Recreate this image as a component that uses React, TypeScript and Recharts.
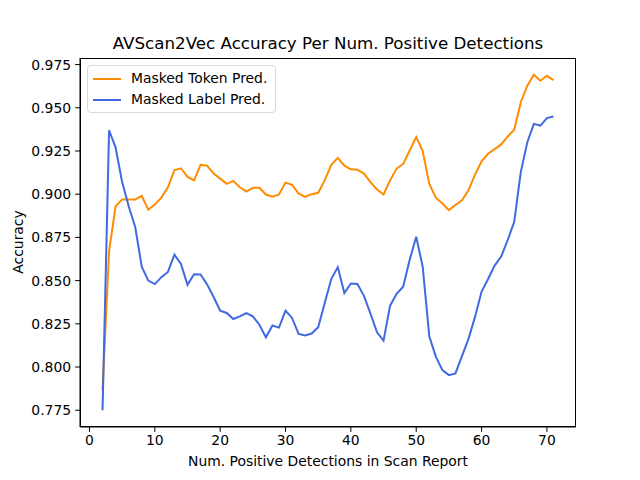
import { Line, LineChart, XAxis, YAxis } from "recharts";

const detections = [
  2, 3, 4, 5, 6, 7, 8, 9, 10, 11, 12, 13, 14, 15, 16, 17, 18, 19, 20, 21, 22, 23, 24, 25, 26, 27, 28, 29, 30,
  31, 32, 33, 34, 35, 36, 37, 38, 39, 40, 41, 42, 43, 44, 45, 46, 47, 48, 49, 50, 51, 52, 53, 54, 55, 56, 57,
  58, 59, 60, 61, 62, 63, 64, 65, 66, 67, 68, 69, 70, 71,
];

const maskedToken = [
  0.787, 0.867, 0.893, 0.897, 0.897, 0.897, 0.899, 0.891, 0.894, 0.898, 0.904, 0.914, 0.915, 0.91, 0.908,
  0.917, 0.9165, 0.912, 0.909, 0.906, 0.9077, 0.904, 0.9015, 0.9037, 0.9037, 0.8998, 0.8985, 0.8998, 0.9067,
  0.9054, 0.9004, 0.8985, 0.9, 0.9008, 0.908, 0.917, 0.921, 0.9165, 0.9144, 0.9142, 0.9119, 0.907, 0.9027,
  0.8998, 0.908, 0.9148, 0.9175, 0.9253, 0.933, 0.925, 0.906, 0.898, 0.8946, 0.8908, 0.8937, 0.8965, 0.9023,
  0.9113, 0.919, 0.9234, 0.9261, 0.9288, 0.9334, 0.9373, 0.9532, 0.9628, 0.9691, 0.9656, 0.9685, 0.966,
];

const maskedLabel = [
  0.775, 0.937, 0.927, 0.907, 0.893, 0.881, 0.858, 0.85, 0.848, 0.852, 0.855, 0.865, 0.8597, 0.8476, 0.8537,
  0.8535, 0.8478, 0.8405, 0.8326, 0.8313, 0.8278, 0.8293, 0.8312, 0.8293, 0.8245, 0.8172, 0.824, 0.8228,
  0.8326, 0.8284, 0.8192, 0.8182, 0.8194, 0.823, 0.837, 0.8509, 0.8578, 0.8428, 0.8483, 0.848, 0.8412, 0.8309,
  0.8201, 0.8153, 0.8355, 0.8424, 0.8465, 0.862, 0.8754, 0.8578, 0.8178, 0.806, 0.7982, 0.7953, 0.7963, 0.8063,
  0.8163, 0.829, 0.8437, 0.8509, 0.8587, 0.8639, 0.8735, 0.884, 0.9128, 0.9301, 0.9407, 0.9397, 0.944, 0.9449,
];

const xTicks = [0, 10, 20, 30, 40, 50, 60, 70];
const yTicks = [0.775, 0.8, 0.825, 0.85, 0.875, 0.9, 0.925, 0.95, 0.975];

const ORANGE = "#FF8C00";
const BLUE = "#4169E1";
const FONT = "'DejaVu Sans', sans-serif";
const TICK = { fontSize: 13.9, fill: "#000", fontFamily: FONT };

const series = detections.map((d, i) => ({
  detections: d,
  token: maskedToken[i],
  label: maskedLabel[i],
}));

const legendItems = [
  { name: "Masked Token Pred.", color: ORANGE },
  { name: "Masked Label Pred.", color: BLUE },
];

function LegendBox() {
  return (
    <div
      style={{
        position: "absolute",
        left: 87,
        top: 65,
        border: "1px solid #d9d9d9",
        borderRadius: 4,
        background: "rgba(255,255,255,0.8)",
        padding: "2px 8px 2px 5px",
        fontSize: 13.9,
        lineHeight: "21px",
      }}
    >
      {legendItems.map((it) => (
        <div key={it.name} style={{ display: "flex", alignItems: "center" }}>
          <span style={{ display: "inline-block", width: 28, height: 2, background: it.color, marginRight: 10 }} />
          <span>{it.name}</span>
        </div>
      ))}
    </div>
  );
}

export default function App() {
  return (
    <div style={{ position: "absolute", left: 0, top: 0, width: 640, height: 480, background: "#fff", fontFamily: FONT }}>
      <LineChart width={640} height={480} data={series} margin={{ top: 58, right: 64, bottom: 0, left: 0 }}>
        <XAxis
          dataKey="detections"
          type="number"
          domain={[-1.45, 74.45]}
          ticks={xTicks}
          allowDataOverflow
          height={53}
          tick={TICK}
          tickSize={4.9}
          tickMargin={3}
          stroke="#000"
          tickLine={{ stroke: "#000" }}
        />
        <YAxis
          type="number"
          domain={[0.7653, 0.9788]}
          ticks={yTicks}
          allowDataOverflow
          width={80}
          tick={TICK}
          tickSize={4.9}
          tickMargin={4}
          tickFormatter={(v: number) => v.toFixed(3)}
          stroke="#000"
          tickLine={{ stroke: "#000" }}
        />
        <Line
          dataKey="token"
          name="Masked Token Pred."
          stroke={ORANGE}
          strokeWidth={2}
          dot={false}
          isAnimationActive={false}
        />
        <Line
          dataKey="label"
          name="Masked Label Pred."
          stroke={BLUE}
          strokeWidth={2}
          dot={false}
          isAnimationActive={false}
        />
      </LineChart>
      <div
        style={{
          position: "absolute",
          left: 80,
          top: 58,
          width: 496,
          height: 369,
          boxSizing: "border-box",
          border: "1px solid #000",
          pointerEvents: "none",
        }}
      />
      <LegendBox />
      <div style={{ position: "absolute", left: 80, width: 496, top: 33, textAlign: "center", fontSize: 16.7, lineHeight: "20px" }}>
        AVScan2Vec Accuracy Per Num. Positive Detections
      </div>
      <div style={{ position: "absolute", left: 80, width: 496, top: 453, textAlign: "center", fontSize: 13.9, lineHeight: "17px" }}>
        Num. Positive Detections in Scan Report
      </div>
      <div
        style={{
          position: "absolute",
          left: 18,
          top: 242,
          transform: "translate(-50%, -50%) rotate(-90deg)",
          fontSize: 13.9,
          lineHeight: "17px",
          whiteSpace: "nowrap",
        }}
      >
        Accuracy
      </div>
    </div>
  );
}
